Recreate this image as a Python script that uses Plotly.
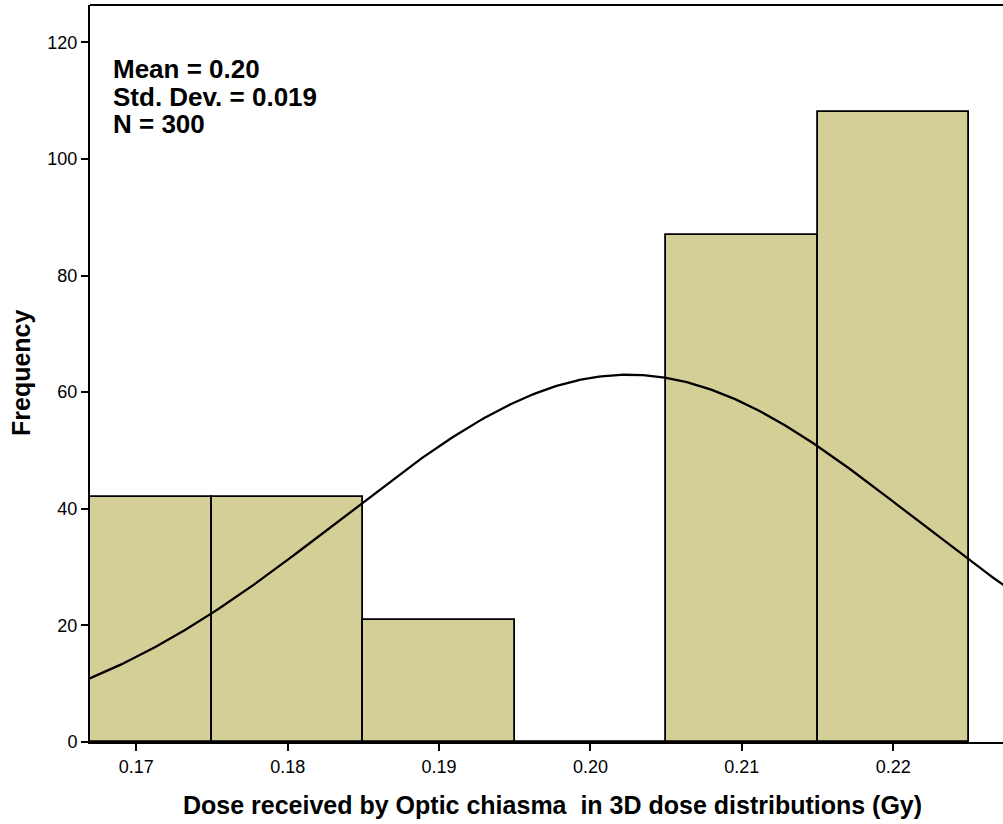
import numpy as np
import plotly.graph_objects as go

bin_centers = [0.17, 0.18, 0.19, 0.20, 0.21, 0.22]
frequencies = [42, 42, 21, 0, 87, 108]
bin_width = 0.01
curve_mean = 0.2025
curve_sd = 0.019
n_total = 300
x_ticks = [0.17, 0.18, 0.19, 0.20, 0.21, 0.22]
x_tick_labels = ["0.17", "0.18", "0.19", "0.20", "0.21", "0.22"]
y_ticks = [0, 20, 40, 60, 80, 100, 120]
stats_lines = ["Mean = 0.20", "Std. Dev. = 0.019", "N = 300"]
x_title = "Dose received by Optic chiasma  in 3D dose distributions (Gy)"
y_title = "Frequency"

x_range = [0.16694, 0.22725]
xs = np.linspace(x_range[0] - 0.002, x_range[1] + 0.002, 400)
ys = n_total * bin_width / (curve_sd * np.sqrt(2 * np.pi)) * np.exp(-0.5 * ((xs - curve_mean) / curve_sd) ** 2)

fig = go.Figure()
fig.add_trace(go.Bar(
    x=bin_centers, y=frequencies, width=[bin_width] * len(bin_centers),
    marker=dict(color="#D3CF97", line=dict(color="black", width=1.8)),
    showlegend=False, hoverinfo="skip",
))
fig.add_trace(go.Scatter(
    x=xs, y=ys, mode="lines", line=dict(color="black", width=2.3),
    showlegend=False, hoverinfo="skip",
))

# plot area: x 90..1003, y 5..742 in pixels
def py(p):
    return (742 - p) / 737.0

def px(p):
    return (p - 90) / 913.0

annotations = []
for i, line in enumerate(stats_lines):
    annotations.append(dict(
        text="<b>" + line + "</b>", xref="paper", yref="paper",
        x=px(111), y=py(69 + 27.5 * i), xanchor="left", yanchor="middle", align="left",
        showarrow=False, font=dict(size=26, color="black"),
    ))
annotations.append(dict(
    text="<b>" + x_title + "</b>", xref="paper", yref="paper",
    x=px(552), y=py(805), xanchor="center", yanchor="middle",
    showarrow=False, font=dict(size=25, color="black"),
))
annotations.append(dict(
    text="<b>" + y_title + "</b>", xref="paper", yref="paper",
    x=px(21), y=py(373), xanchor="center", yanchor="middle", textangle=-90,
    showarrow=False, font=dict(size=25, color="black"),
))

fig.update_layout(
    width=1003, height=824,
    margin=dict(l=90, r=0, t=5, b=82),
    plot_bgcolor="white", paper_bgcolor="white",
    font=dict(family="Liberation Sans, Arial, sans-serif", color="black"),
    bargap=0,
    xaxis=dict(
        range=x_range, tickvals=x_ticks, ticktext=x_tick_labels,
        showline=True, linecolor="black", linewidth=2,
        ticks="outside", ticklen=7, tickwidth=1.5, tickcolor="black",
        showgrid=False, zeroline=False,
        tickfont=dict(size=18),
    ),
    yaxis=dict(
        range=[0, 126.4], tickvals=y_ticks,
        showline=True, linecolor="black", linewidth=2,
        ticks="outside", ticklen=7, tickwidth=1.5, tickcolor="black",
        showgrid=False, zeroline=False,
        tickfont=dict(size=18),
    ),
    shapes=[dict(type="line", xref="paper", yref="paper", x0=0, x1=1, y0=1, y1=1,
                 line=dict(color="black", width=2))],
    annotations=annotations,
)

fig.write_html("out.html")
